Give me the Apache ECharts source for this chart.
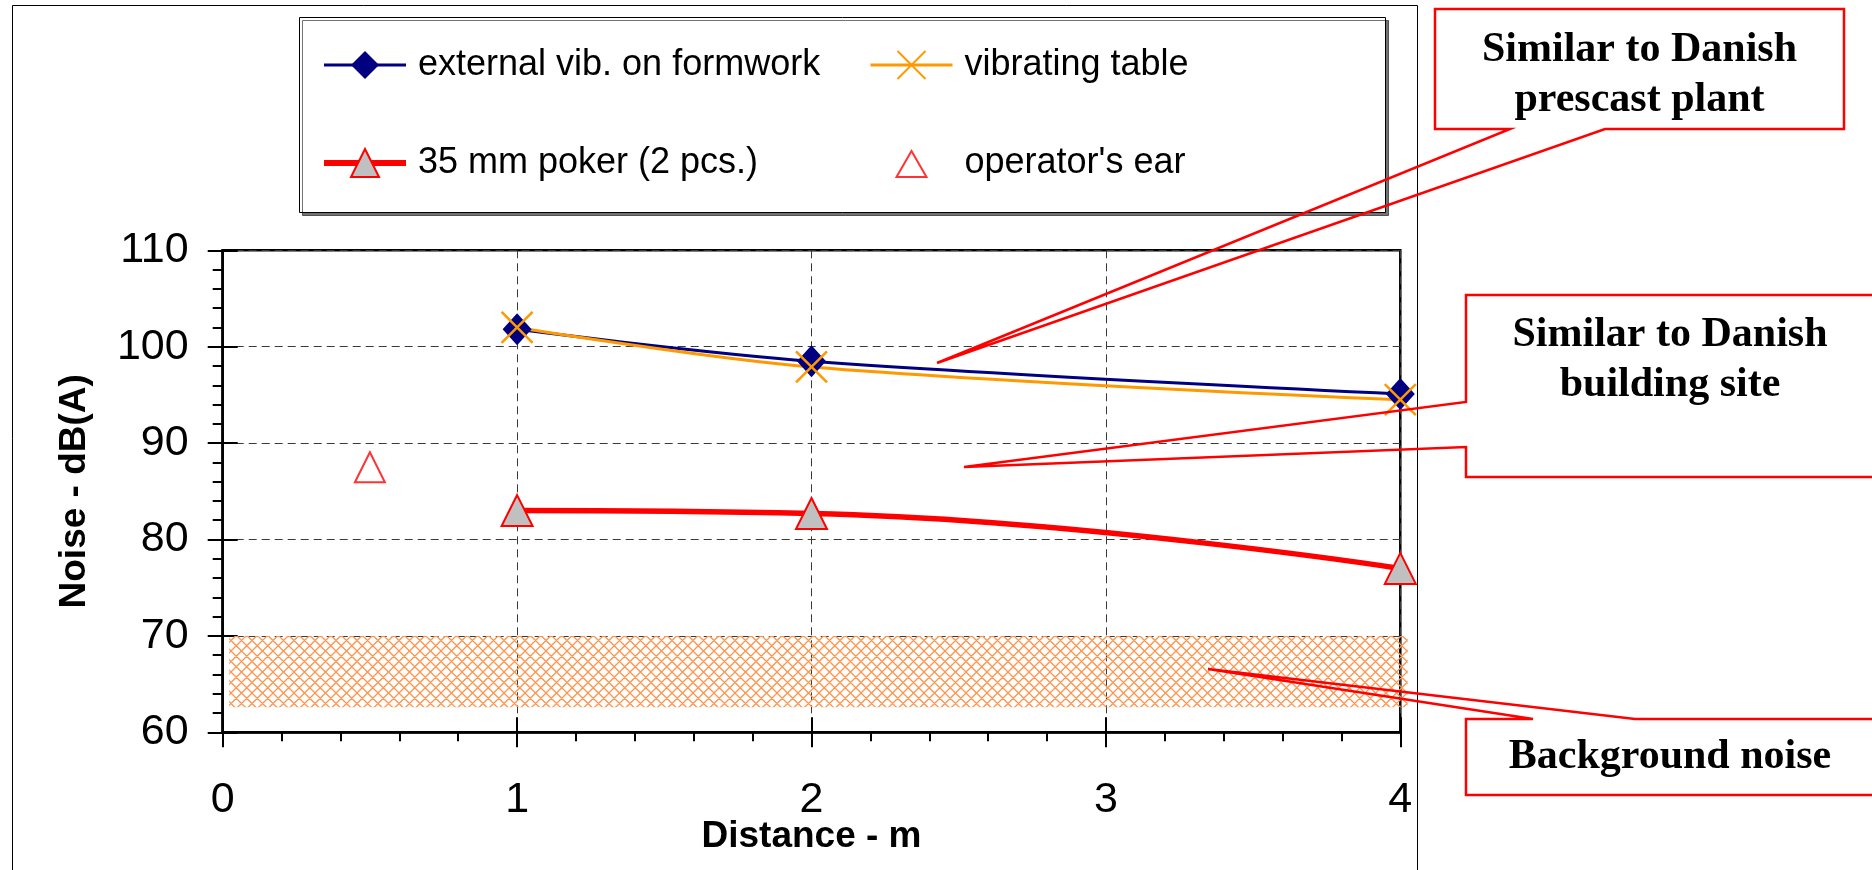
<!DOCTYPE html>
<html>
<head>
<meta charset="utf-8">
<script src="https://cdn.jsdelivr.net/npm/echarts@6/dist/echarts.min.js"></script>
<style>
html,body{margin:0;padding:0;background:#ffffff;}
#chart{width:1872px;height:870px;}
</style>
</head>
<body>
<div id="chart"></div>
<script>
// ---------------- data ----------------
const seriesNames = ['external vib. on formwork', 'vibrating table', '35 mm poker (2 pcs.)', "operator's ear"];
const distances = [1, 2, 4];
const extVibNoise = [101.8, 98.5, 95.1];
const vibTableNoise = [102.0, 97.9, 94.5];
const pokerNoise = [83.0, 82.7, 77.0];
const earDistance = [0.5];
const earNoise = [87.5];
const backgroundNoiseX = [0.022, 4.025];
const backgroundNoiseY = [62.6, 70];
const xTickValues = [0, 1, 2, 3, 4];
const yTickValues = [60, 70, 80, 90, 100, 110];
const calloutTexts = ['Similar to Danish\nprescast plant', 'Similar to Danish\nbuilding site', 'Background noise'];

// ---------------- helpers ----------------
function zip(xs, ys) { return xs.map((x, i) => [x, ys[i]]); }

function makeHatch() {
  const c = document.createElement('canvas');
  c.width = 21; c.height = 21;
  const ctx = c.getContext('2d');
  ctx.strokeStyle = '#FF944D';
  ctx.lineWidth = 1.3;
  const n = c.width;
  ctx.beginPath();
  for (let k = -2; k <= 2; k++) {
    ctx.moveTo(k * n / 2 - 2, -2); ctx.lineTo(k * n / 2 + n + 2, n + 2);
    ctx.moveTo(k * n / 2 + n + 2, -2); ctx.lineTo(k * n / 2 - 2, n + 2);
  }
  ctx.stroke();
  return c;
}
const hatchCanvas = makeHatch();

const FONT = '"Liberation Sans", Arial, sans-serif';
const SERIF = '"Liberation Serif", "Times New Roman", serif';
const xPath = 'path://M0,0L10,10M10,0L0,10';
// legend icon for the open triangle: bounding box equals the legend item box (82 x 35)
const earLegendIcon = 'path://M0,0L0.01,0M82,35L81.99,35M26,31L41,5L56,31Z';

const chart = echarts.init(document.getElementById('chart'), null, {renderer: 'canvas'});

const tickStyle = {color: '#000', width: 2};
const splitStyle = {show: true, lineStyle: {color: '#3a3a3a', width: 1, type: [8, 5]}};
const legendText = {fontSize: 36, color: '#000', fontFamily: FONT, lineHeight: 36, padding: [0, 0, 0, 7]};

const option = {
  animation: false,
  backgroundColor: '#ffffff',
  textStyle: {fontFamily: FONT, color: '#000'},
  grid: {
    left: 222.7, top: 250.3, right: 1872 - 1400.3, bottom: 870 - 732.3,
    show: true, borderColor: '#000', borderWidth: 2.5, backgroundColor: 'transparent',
    containLabel: false, outerBoundsMode: 'none'
  },
  xAxis: [
    {
      type: 'value', min: xTickValues[0], max: xTickValues[xTickValues.length - 1], interval: 1,
      position: 'bottom',
      axisLine: {show: true, onZero: false, lineStyle: {color: '#000', width: 2.5}},
      axisTick: {show: true, inside: false, length: 15, lineStyle: tickStyle},
      minorTick: {show: true, splitNumber: 5, length: 9, lineStyle: tickStyle},
      axisLabel: {show: true, margin: 46, fontSize: 43, color: '#000', fontFamily: FONT},
      splitLine: splitStyle,
      name: 'Distance - m', nameLocation: 'middle', nameGap: 86, nameMoveOverlap: false,
      nameTextStyle: {fontSize: 37, fontWeight: 'bold', color: '#000', fontFamily: FONT}
    },
    {
      type: 'value', min: xTickValues[0], max: xTickValues[xTickValues.length - 1], interval: 1,
      position: 'bottom',
      axisLine: {show: false, onZero: false},
      axisTick: {show: true, inside: true, length: 15, lineStyle: tickStyle},
      axisLabel: {show: false}, splitLine: {show: false}
    }
  ],
  yAxis: [
    {
      type: 'value', min: yTickValues[0], max: yTickValues[yTickValues.length - 1], interval: 10,
      position: 'left',
      axisLine: {show: true, onZero: false, lineStyle: {color: '#000', width: 2.5}},
      axisTick: {show: true, inside: false, length: 15, lineStyle: tickStyle},
      minorTick: {show: true, splitNumber: 5, length: 10, lineStyle: tickStyle},
      axisLabel: {show: true, margin: 34, fontSize: 43, color: '#000', fontFamily: FONT},
      splitLine: splitStyle,
      name: 'Noise - dB(A)', nameLocation: 'middle', nameGap: 129, nameRotate: 90, nameMoveOverlap: false,
      nameTextStyle: {fontSize: 37, fontWeight: 'bold', color: '#000', fontFamily: FONT}
    },
    {
      type: 'value', min: yTickValues[0], max: yTickValues[yTickValues.length - 1], interval: 10,
      position: 'left',
      axisLine: {show: false, onZero: false},
      axisTick: {show: true, inside: true, length: 15, lineStyle: tickStyle},
      axisLabel: {show: false}, splitLine: {show: false}
    }
  ],
  legend: [
    {
      left: 321, top: 47, orient: 'vertical', padding: 0, itemGap: 62,
      itemWidth: 82, itemHeight: 35, symbolKeepAspect: true, selectedMode: false,
      textStyle: legendText,
      data: [
        {name: seriesNames[0], lineStyle: {width: 3}},
        {name: seriesNames[2], lineStyle: {width: 6}}
      ]
    },
    {
      left: 869, top: 47, orient: 'vertical', padding: 0, itemGap: 62,
      itemWidth: 82, itemHeight: 35, symbolKeepAspect: true, selectedMode: false,
      textStyle: legendText,
      data: [
        {name: seriesNames[1], lineStyle: {width: 3}},
        {name: seriesNames[3], icon: earLegendIcon}
      ]
    }
  ],
  series: [
    {
      name: 'Background noise', type: 'custom', xAxisIndex: 0, yAxisIndex: 0, clip: false, silent: true,
      data: [[backgroundNoiseX[0], backgroundNoiseY[1], backgroundNoiseX[1], backgroundNoiseY[0]]],
      encode: {x: [0, 2], y: [1, 3]},
      renderItem: function (params, api) {
        const p0 = api.coord([api.value(0), api.value(1)]);
        const p1 = api.coord([api.value(2), api.value(3)]);
        return {
          type: 'rect',
          shape: {x: p0[0], y: p0[1], width: p1[0] - p0[0], height: p1[1] - p0[1]},
          style: {fill: {type: 'pattern', image: hatchCanvas, repeat: 'repeat'}, stroke: null}
        };
      }
    },
    {
      name: seriesNames[0], type: 'line', data: zip(distances, extVibNoise), smooth: 0.35,
      symbol: 'diamond', symbolSize: [29, 32], showSymbol: true,
      itemStyle: {color: '#000080'},
      lineStyle: {color: '#000080', width: 3}
    },
    {
      name: seriesNames[1], type: 'line', data: zip(distances, vibTableNoise), smooth: 0.35,
      symbol: xPath, symbolSize: 31, showSymbol: true,
      itemStyle: {color: '#FF9900', borderColor: '#FF9900', borderWidth: 2.5},
      lineStyle: {color: '#FF9900', width: 3}
    },
    {
      name: seriesNames[2], type: 'line', data: zip(distances, pokerNoise), smooth: 0.45,
      symbol: 'triangle', symbolSize: 31, showSymbol: true,
      itemStyle: {color: '#C0C0C0', borderColor: '#FF0000', borderWidth: 2},
      lineStyle: {color: '#FF0000', width: 5.5}
    },
    {
      name: seriesNames[3], type: 'scatter', data: zip(earDistance, earNoise),
      symbol: 'triangle', symbolSize: 30, symbolKeepAspect: true,
      itemStyle: {color: '#ffffff', borderColor: '#FF0000', borderWidth: 2}
    }
  ],
  graphic: {
    elements: [
      {
        type: 'rect', z: -10, silent: true,
        shape: {x: 12.5, y: 5.5, width: 1405, height: 900},
        style: {fill: 'none', stroke: '#000', lineWidth: 1}
      },
      {
        type: 'rect', z: 1, silent: true,
        shape: {x: 299.5, y: 17.5, width: 1086, height: 195},
        style: {fill: '#ffffff', stroke: '#000', lineWidth: 1,
          shadowColor: 'rgba(0,0,0,0.55)', shadowOffsetX: 3, shadowOffsetY: 3, shadowBlur: 0}
      },
      {
        type: 'polygon', z: 100, silent: true,
        shape: {points: [[1435, 9], [1844, 9], [1844, 129], [1605, 129], [937, 363], [1510, 129], [1435, 129]]},
        style: {fill: 'none', stroke: '#FF0000', lineWidth: 2.5, lineJoin: 'miter'}
      },
      {
        type: 'polygon', z: 100, silent: true,
        shape: {points: [[1466, 295], [1878, 295], [1878, 477], [1466, 477], [1466, 447], [964, 467], [1466, 402]]},
        style: {fill: 'none', stroke: '#FF0000', lineWidth: 2.5, lineJoin: 'miter'}
      },
      {
        type: 'polygon', z: 100, silent: true,
        shape: {points: [[1466, 719], [1533, 719], [1208, 669], [1635, 719], [1878, 719], [1878, 795], [1466, 795]]},
        style: {fill: 'none', stroke: '#FF0000', lineWidth: 2.5, lineJoin: 'miter'}
      },
      {
        type: 'text', z: 101, silent: true, x: 1639.5, y: 75,
        style: {text: calloutTexts[0], font: 'bold 42px ' + SERIF, fill: '#000', lineHeight: 50,
          align: 'center', verticalAlign: 'middle', textAlign: 'center', textVerticalAlign: 'middle'}
      },
      {
        type: 'text', z: 101, silent: true, x: 1670, y: 360,
        style: {text: calloutTexts[1], font: 'bold 42px ' + SERIF, fill: '#000', lineHeight: 50,
          align: 'center', verticalAlign: 'middle', textAlign: 'center', textVerticalAlign: 'middle'}
      },
      {
        type: 'text', z: 101, silent: true, x: 1670, y: 757,
        style: {text: calloutTexts[2], font: 'bold 42px ' + SERIF, fill: '#000', lineHeight: 48,
          align: 'center', verticalAlign: 'middle', textAlign: 'center', textVerticalAlign: 'middle'}
      }
    ]
  }
};

chart.setOption(option);
</script>
</body>
</html>
